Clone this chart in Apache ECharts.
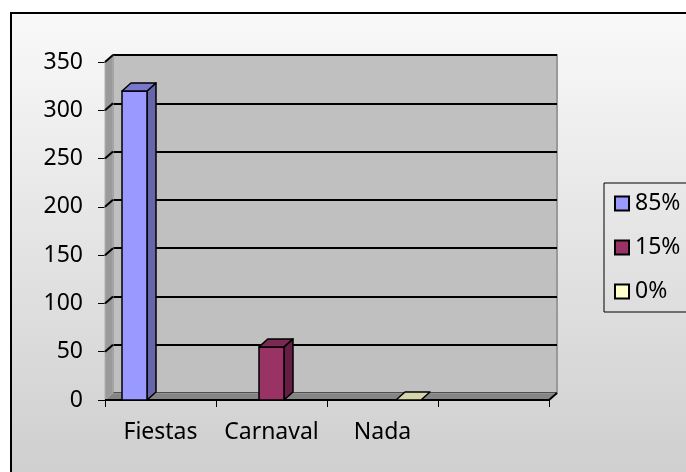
<!DOCTYPE html>
<html>
<head>
<meta charset="utf-8">
<script src="https://cdn.jsdelivr.net/npm/echarts@6/dist/echarts.min.js"></script>
<style>
  html, body { margin: 0; padding: 0; background: #fff; }
  #chart { width: 686px; height: 472px; }
</style>
</head>
<body>
<div id="chart"></div>
<script>
// datos
const categories = ['Fiestas', 'Carnaval', 'Nada', '']
const seriesNames = ['85%', '15%', '0%']
const fiestasValues = [320, null, null, null]
const carnavalValues = [null, 55, null, null]
const nadaValues = [null, null, 0, null]
const yTicks = [0, 50, 100, 150, 200, 250, 300, 350]

// colores: frente, lado, tapa
const palette = [
  { front: '#9999ff', side: '#6666aa', top: '#7777cc' },
  { front: '#993366', side: '#661f44', top: '#7a2952' },
  { front: '#ffffcc', side: '#b3b38f', top: '#d6d6aa' }
]

// posiciones del plano frontal y profundidad 3D
const G = { left: 105, top: 62, width: 444, height: 338 }
const WALL = { dx: 8, dy: -7 }
const BAR = { w: 25, gap: 1, dx: 9, dy: -8 }
const FONT = 'Noto Sans'
const FONT_SIZE = 23

const chart = echarts.init(document.getElementById('chart'))

function renderBar(params, api) {
  const v = api.value(1)
  if (v == null || isNaN(v)) return
  const base = api.coord([api.value(0), 0])
  const top = api.coord([api.value(0), v])
  const cx = base[0] + (params.seriesIndex - 1) * (BAR.w + BAR.gap)
  const x0 = cx - BAR.w / 2
  const x1 = cx + BAR.w / 2
  const c = palette[params.seriesIndex]
  const stroke = { stroke: '#000', lineWidth: 1.5, lineJoin: 'round' }
  const children = []
  if (base[1] - top[1] > 0.5) {
    children.push({
      type: 'polygon',
      shape: { points: [[x1, top[1]], [x1 + BAR.dx, top[1] + BAR.dy], [x1 + BAR.dx, base[1] + BAR.dy], [x1, base[1]]] },
      style: Object.assign({ fill: c.side }, stroke)
    })
    children.push({
      type: 'rect',
      shape: { x: x0, y: top[1], width: BAR.w, height: base[1] - top[1] },
      style: Object.assign({ fill: c.front }, stroke)
    })
  }
  // tapa (en el valor 0 solo queda la tapa)
  children.push({
    type: 'polygon',
    shape: { points: [[x0, top[1]], [x0 + BAR.dx, top[1] + BAR.dy], [x1 + BAR.dx, top[1] + BAR.dy], [x1, top[1]]] },
    style: Object.assign({ fill: c.top }, stroke)
  })
  return { type: 'group', children: children }
}

// pared lateral, piso y diagonales de la rejilla
const wallGraphics = []
wallGraphics.push({
  type: 'polygon', z: 1,
  shape: { points: [[G.left, G.top + G.height], [G.left, G.top], [G.left + WALL.dx, G.top + WALL.dy], [G.left + WALL.dx, G.top + G.height + WALL.dy]] },
  style: { fill: '#9a9a9a', stroke: '#b0b0b0', lineWidth: 1 }
})
yTicks.forEach(function (t) {
  const y = G.top + G.height - t / 350 * G.height
  if (t === 0) return
  wallGraphics.push({
    type: 'line', z: 1,
    shape: { x1: G.left, y1: y, x2: G.left + WALL.dx, y2: y + WALL.dy },
    style: { stroke: '#000', lineWidth: 2 }
  })
})
wallGraphics.push({
  type: 'polygon', z: 1,
  shape: { points: [[G.left, G.top + G.height], [G.left + WALL.dx, G.top + G.height + WALL.dy], [G.left + G.width + WALL.dx, G.top + G.height + WALL.dy], [G.left + G.width, G.top + G.height]] },
  style: { fill: '#858585', stroke: '#a0a0a0', lineWidth: 1 }
})
wallGraphics.push({
  type: 'polyline', z: 1,
  shape: { points: [[G.left, G.top + G.height], [G.left + G.width, G.top + G.height], [G.left + G.width + WALL.dx, G.top + G.height + WALL.dy]] },
  style: { stroke: '#000', lineWidth: 2, fill: null }
})

const valueLists = [fiestasValues, carnavalValues, nadaValues]

chart.setOption({
  animation: false,
  textStyle: { fontFamily: FONT },
  graphic: [
    {
      type: 'rect', z: -10,
      shape: { x: 11, y: 13, width: 700, height: 480 },
      style: {
        fill: new echarts.graphic.LinearGradient(0, 0, 0, 1, [
          { offset: 0, color: '#f9f9f9' },
          { offset: 1, color: '#cdcdcd' }
        ]),
        stroke: '#000', lineWidth: 2
      }
    }
  ].concat(wallGraphics),
  grid: [
    { left: G.left, top: G.top, width: G.width, height: G.height, containLabel: false, outerBoundsMode: 'none' },
    {
      left: G.left + WALL.dx, top: G.top + WALL.dy, width: G.width, height: G.height,
      show: true, backgroundColor: '#c0c0c0', borderColor: '#999', borderWidth: 2,
      containLabel: false, outerBoundsMode: 'none'
    }
  ],
  legend: {
    orient: 'vertical',
    left: 604,
    top: 183,
    padding: [9, 60, 9, 10],
    itemWidth: 14,
    itemHeight: 14,
    itemGap: 21,
    icon: 'rect',
    borderColor: '#000',
    borderWidth: 1,
    itemStyle: { borderColor: '#000', borderWidth: 2 },
    textStyle: { fontFamily: FONT, fontSize: FONT_SIZE, color: '#000', padding: [0, 0, 0, 1] },
    data: seriesNames
  },
  xAxis: [
    {
      type: 'category', gridIndex: 0, data: categories,
      boundaryGap: true,
      axisLine: { show: false },
      axisTick: { show: true, length: 7, lineStyle: { color: '#000', width: 1 } },
      axisLabel: { fontFamily: FONT, fontSize: FONT_SIZE, color: '#000', margin: 21, interval: 0 }
    },
    {
      type: 'category', gridIndex: 1, data: categories, show: false
    }
  ],
  yAxis: [
    {
      type: 'value', gridIndex: 0, min: 0, max: 350, interval: 50,
      axisLine: { show: true, lineStyle: { color: '#000', width: 1 } },
      axisTick: { show: true, length: 7, lineStyle: { color: '#000', width: 1 } },
      splitLine: { show: false },
      axisLabel: { fontFamily: FONT, fontSize: FONT_SIZE, color: '#000', margin: 22 }
    },
    {
      type: 'value', gridIndex: 1, min: 0, max: 350, interval: 50,
      axisLine: { show: false },
      axisTick: { show: false },
      axisLabel: { show: false },
      splitLine: { show: true, lineStyle: { color: '#000', width: 2 } }
    }
  ],
  series: seriesNames.map(function (name, i) {
    return {
      name: name,
      type: 'custom',
      xAxisIndex: 0,
      yAxisIndex: 0,
      z: 5,
      itemStyle: { color: palette[i].front },
      renderItem: renderBar,
      encode: { x: 0, y: 1 },
      data: valueLists[i].map(function (v, j) { return [j, v] })
    }
  })
})
</script>
</body>
</html>
